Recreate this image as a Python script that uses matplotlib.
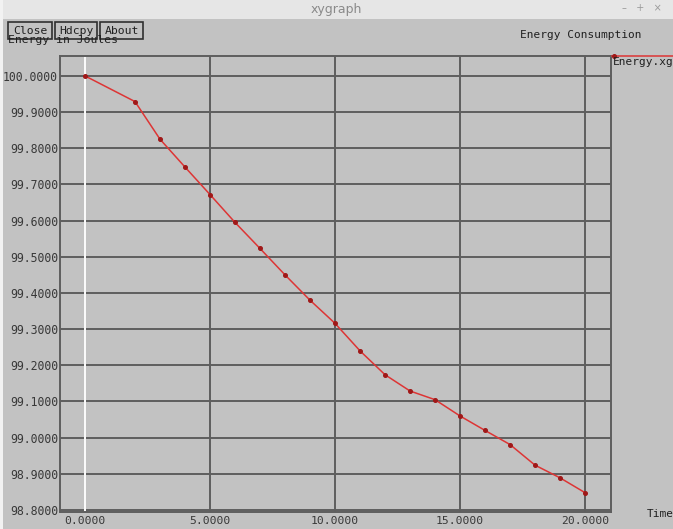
import matplotlib
matplotlib.use("Agg")
import matplotlib.pyplot as plt
from matplotlib.patches import Rectangle

# Energy consumption
times = [0, 2, 3, 4, 5, 6, 7, 8, 9, 10, 11, 12, 13, 14, 15, 16, 17, 18, 19, 20]
energy = [100.000, 99.929, 99.825, 99.748, 99.672, 99.595, 99.523, 99.450,
          99.380, 99.316, 99.240, 99.174, 99.129, 99.105, 99.060, 99.020,
          98.981, 98.924, 98.889, 98.848]

x_ticks = [0, 5, 10, 15, 20]
y_ticks = [98.8, 98.9, 99.0, 99.1, 99.2, 99.3, 99.4, 99.5, 99.6, 99.7,
           99.8, 99.9, 100.0]

W, H = 673, 529
BG = "#c2c2c2"
GRID = "#5e5e5e"
MONO = "DejaVu Sans Mono"

fig = plt.figure(figsize=(W / 100, H / 100), dpi=100, facecolor=BG)

# plot area in pixels: x 60..611, y 56..512
left, right, top, bottom = 60, 611, 56, 512
ax = fig.add_axes([left / W, (H - bottom) / H, (right - left) / W, (bottom - top) / H])
ax.set_facecolor(BG)

ax.plot(times, energy, color="#dd3535", lw=1.1, marker="o", ms=2.6,
        mfc="#a01818", mec="#a01818", zorder=3)

ax.set_xlim(-1.0, 21.04)
ax.set_ylim(98.7945, 100.055)
ax.set_xticks(x_ticks)
ax.set_xticklabels(["%.4f" % t for t in x_ticks])
ax.set_yticks(y_ticks)
ax.set_yticklabels(["%.4f" % v for v in y_ticks])
ax.tick_params(length=0, labelcolor="#383838")
ax.tick_params(axis="y", pad=1.5, labelsize=8.3)
ax.tick_params(axis="x", pad=3, labelsize=8.2)
for lab in ax.get_xticklabels() + ax.get_yticklabels():
    lab.set_family(MONO)

ax.grid(True, color=GRID, lw=1.4)
ax.set_axisbelow(True)
ax.axvline(0, color="white", lw=1.4, zorder=2)
for s in ax.spines.values():
    s.set_color(GRID)
    s.set_linewidth(1.4)

# window decorations drawn in pixel coordinates
ov = fig.add_axes([0, 0, 1, 1], zorder=10)
ov.set_xlim(0, W)
ov.set_ylim(H, 0)
ov.axis("off")

ov.add_patch(Rectangle((0, 0), W, 19, facecolor="#e6e6e6", edgecolor="none"))
ov.add_patch(Rectangle((0, 0), 3, H, facecolor="#f2f2f2", edgecolor="none"))
ov.text(336, 9, "xygraph", ha="center", va="center", fontsize=9,
        color="#8a8a8a")
ov.text(642, 8, "\u2013   +   \u00d7", ha="center", va="center", fontsize=7,
        color="#9a9a9a")

# y axis name, half hidden behind the buttons
ov.text(8, 40, "Energy in Joules", ha="left", va="center", fontsize=8.2,
        family=MONO, color="#202020")
for x0, x1, name in [(8, 52, "Close"), (55, 97, "Hdcpy"), (100, 143, "About")]:
    ov.add_patch(Rectangle((x0, 22), x1 - x0, 17, facecolor=BG,
                           edgecolor="#303030", lw=1.2))
    ov.text((x0 + x1) / 2, 30.5, name, ha="center", va="center",
            fontsize=8.2, family=MONO, color="#202020")

ov.text(581, 35, "Energy Consumption", ha="center", va="center", fontsize=8,
        family=MONO, color="#202020")

# legend
ov.plot([612, 673], [56, 56], color="#dd3535", lw=1.1)
ov.plot([614], [56], "o", ms=2.6, color="#a01818")
ov.text(613, 62, "Energy.xg", ha="left", va="center", fontsize=8,
        family=MONO, color="#202020")

ov.text(647, 514, "Time", ha="left", va="center", fontsize=8,
        family=MONO, color="#202020")

fig.savefig("out.png", dpi=100, facecolor=BG)
